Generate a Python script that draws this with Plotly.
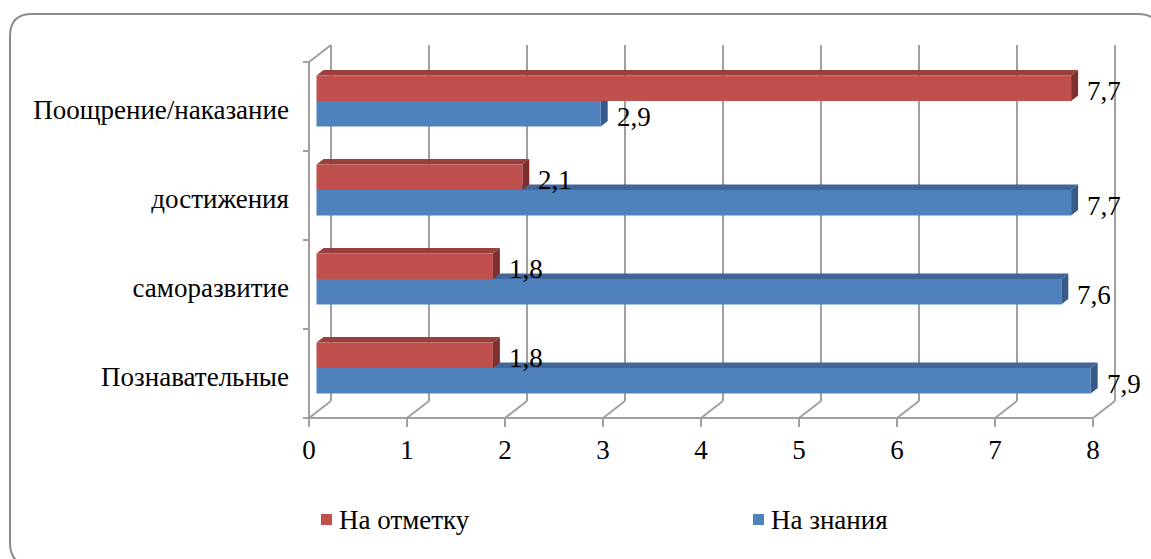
import plotly.graph_objects as go

# ---- data ----
categories = ["Познавательные", "саморазвитие", "достижения", "Поощрение/наказание"]
na_otmetku = [1.8, 1.8, 2.1, 7.7]   # "На отметку"
na_znaniya = [7.9, 7.6, 7.7, 2.9]   # "На знания"
x_ticks = [0, 1, 2, 3, 4, 5, 6, 7, 8]
series_names = ["На отметку", "На знания"]

# ---- styling ----
W, H = 1151, 559
FONT = "'Liberation Serif', 'Times New Roman', Times, 'DejaVu Serif', serif"
FS = 27
RED, RED_TOP, RED_SIDE = "#C0504D", "#993F3D", "#7E302E"
BLUE, BLUE_TOP, BLUE_SIDE = "#4F81BD", "#40669A", "#385A89"
GRID = "#A0A0A0"

# pixel scale of the bar (front-face) plane
X0_BAR, SX = 316.5, 98.0      # px of value 0, px per unit
Y_C0, SY = 368.0, 89.0        # px of first category centre, px per category
BAR_W = 0.2865                # bar thickness in category units

# depth offsets (px right, px down) relative to the bar front plane
FRONT = (-7.5, 5.5)
BACK = (14.5, -11.5)
DEPTH = (7.0, -5.5)

def pt(v, c, off=(0, 0)):
    return v + off[0] / SX, c - off[1] / SY

def paper(px, py):
    return px / W, 1 - py / H

cpos = list(range(len(categories)))
c_lo, c_hi = -0.5, len(categories) - 0.5
v_max = x_ticks[-1]

fig = go.Figure()

fig.add_trace(go.Bar(
    y=cpos, x=na_znaniya, orientation="h", width=BAR_W, offset=-BAR_W,
    marker=dict(color=BLUE, line=dict(width=0)), name=series_names[1],
    showlegend=False, hoverinfo="x",
))
fig.add_trace(go.Bar(
    y=cpos, x=na_otmetku, orientation="h", width=BAR_W, offset=0,
    marker=dict(color=RED, line=dict(width=0)), name=series_names[0],
    showlegend=False, hoverinfo="x",
))
# carrier trace so the front-plane label axes are drawn
fig.add_trace(go.Scatter(
    x=[0], y=[0], xaxis="x2", yaxis="y2", mode="markers",
    marker=dict(opacity=0), showlegend=False, hoverinfo="skip",
))

shapes = []

def line(p0, p1, color=GRID, width=2):
    shapes.append(dict(type="line", xref="x", yref="y",
                       x0=p0[0], y0=p0[1], x1=p1[0], y1=p1[1],
                       line=dict(color=color, width=width), layer="below"))

# back wall gridlines
for v in x_ticks:
    line(pt(v, c_lo, BACK), pt(v, c_hi, BACK))
# floor: front edge and depth lines
line(pt(0, c_lo, FRONT), pt(v_max, c_lo, FRONT))
for v in x_ticks:
    line(pt(v, c_lo, FRONT), pt(v, c_lo, BACK))
# left wall edges
line(pt(0, c_lo, FRONT), pt(0, c_hi, FRONT))
line(pt(0, c_hi, FRONT), pt(0, c_hi, BACK))
# category boundary ticks
for k in range(len(categories) + 1):
    e = k - 0.5
    a = pt(0, e, FRONT)
    line((a[0] - 6 / SX, a[1]), a)

def poly(points, color):
    d = "M " + " L ".join(f"{x},{y}" for x, y in points) + " Z"
    shapes.append(dict(type="path", xref="x", yref="y", path=d,
                       fillcolor=color, line=dict(width=0), layer="below"))

def add(p, off):
    return p[0] + off[0] / SX, p[1] - off[1] / SY

# 3D faces: blue (lower) bars first, then red
for c, v in zip(cpos, na_znaniya):
    top0, top1 = (0, c), (v, c)
    poly([top0, top1, add(top1, DEPTH), add(top0, DEPTH)], BLUE_TOP)
    b0, b1 = (v, c - BAR_W), (v, c)
    poly([b0, b1, add(b1, DEPTH), add(b0, DEPTH)], BLUE_SIDE)
for c, v in zip(cpos, na_otmetku):
    top0, top1 = (0, c + BAR_W), (v, c + BAR_W)
    poly([top0, top1, add(top1, DEPTH), add(top0, DEPTH)], RED_TOP)
    b0, b1 = (v, c), (v, c + BAR_W)
    poly([b0, b1, add(b1, DEPTH), add(b0, DEPTH)], RED_SIDE)

# rounded outer frame
x0, y0, x1, y1, r = 10, 14, 1160, 565, 22
frame = [
    ("M", [(x0, y0 + r)]), ("Q", [(x0, y0), (x0 + r, y0)]),
    ("L", [(x1 - r, y0)]), ("Q", [(x1, y0), (x1, y0 + r)]),
    ("L", [(x1, y1 - r)]), ("Q", [(x1, y1), (x1 - r, y1)]),
    ("L", [(x0 + r, y1)]), ("Q", [(x0, y1), (x0, y1 - r)]),
]
d = " ".join(cmd + " " + " ".join("%.5f,%.5f" % paper(*p) for p in pts) for cmd, pts in frame) + " Z"
shapes.append(dict(type="path", xref="paper", yref="paper", path=d,
                   line=dict(color="#8C8C8C", width=2), layer="below"))

# legend
annotations = []
legend_items = [(series_names[0], RED, 321), (series_names[1], BLUE, 753)]
for name, col, lx in legend_items:
    a = paper(lx, 514)
    b = paper(lx + 11, 525)
    shapes.append(dict(type="rect", xref="paper", yref="paper",
                       x0=a[0], y0=b[1], x1=b[0], y1=a[1],
                       fillcolor=col, line=dict(width=0)))
    tx, ty = paper(lx + 16, 520)
    annotations.append(dict(xref="paper", yref="paper", x=tx, y=ty, text=name,
                            showarrow=False, xanchor="left", yanchor="middle",
                            font=dict(family=FONT, size=FS, color="black")))

def fmt(v):
    return f"{v:.1f}".replace(".", ",")

# value labels
for c, v in zip(cpos, na_otmetku):
    annotations.append(dict(x=v, y=c + BAR_W / 2, xref="x", yref="y", text=fmt(v),
                            showarrow=False, xanchor="left", yanchor="middle",
                            xshift=14, yshift=-3,
                            font=dict(family=FONT, size=FS, color="black")))
for c, v in zip(cpos, na_znaniya):
    annotations.append(dict(x=v, y=c - BAR_W / 2, xref="x", yref="y", text=fmt(v),
                            showarrow=False, xanchor="left", yanchor="middle",
                            xshift=14, yshift=-3,
                            font=dict(family=FONT, size=FS, color="black")))

front_x0 = X0_BAR + FRONT[0]
front_floor = Y_C0 + SY * 0.5 + FRONT[1]
label_c0 = Y_C0 + FRONT[1] + 3.5

fig.update_layout(
    width=W, height=H,
    margin=dict(l=0, r=0, t=0, b=0),
    paper_bgcolor="white", plot_bgcolor="rgba(0,0,0,0)",
    barmode="overlay",
    showlegend=False,
    shapes=shapes,
    annotations=annotations,
    xaxis=dict(range=[-X0_BAR / SX, (W - X0_BAR) / SX], domain=[0, 1],
               visible=False, fixedrange=True),
    yaxis=dict(range=[(Y_C0 - H) / SY, Y_C0 / SY], domain=[0, 1],
               visible=False, fixedrange=True),
    xaxis2=dict(overlaying="x", anchor="free", position=1 - front_floor / H,
                range=[-front_x0 / SX, (W - front_x0) / SX],
                tickvals=x_ticks, ticktext=[str(t) for t in x_ticks],
                ticks="outside", ticklen=8, tickwidth=2, tickcolor=GRID,
                showgrid=False, zeroline=False, showline=False,
                tickfont=dict(family=FONT, size=FS, color="black"),
                fixedrange=True),
    yaxis2=dict(overlaying="y", anchor="free", position=front_x0 / W, side="left",
                range=[(label_c0 - H) / SY, label_c0 / SY],
                tickvals=cpos, ticktext=categories, ticks="",
                ticklabelstandoff=20,
                showgrid=False, zeroline=False, showline=False,
                tickfont=dict(family=FONT, size=FS, color="black"),
                fixedrange=True),
)

fig.write_html("out.html")
